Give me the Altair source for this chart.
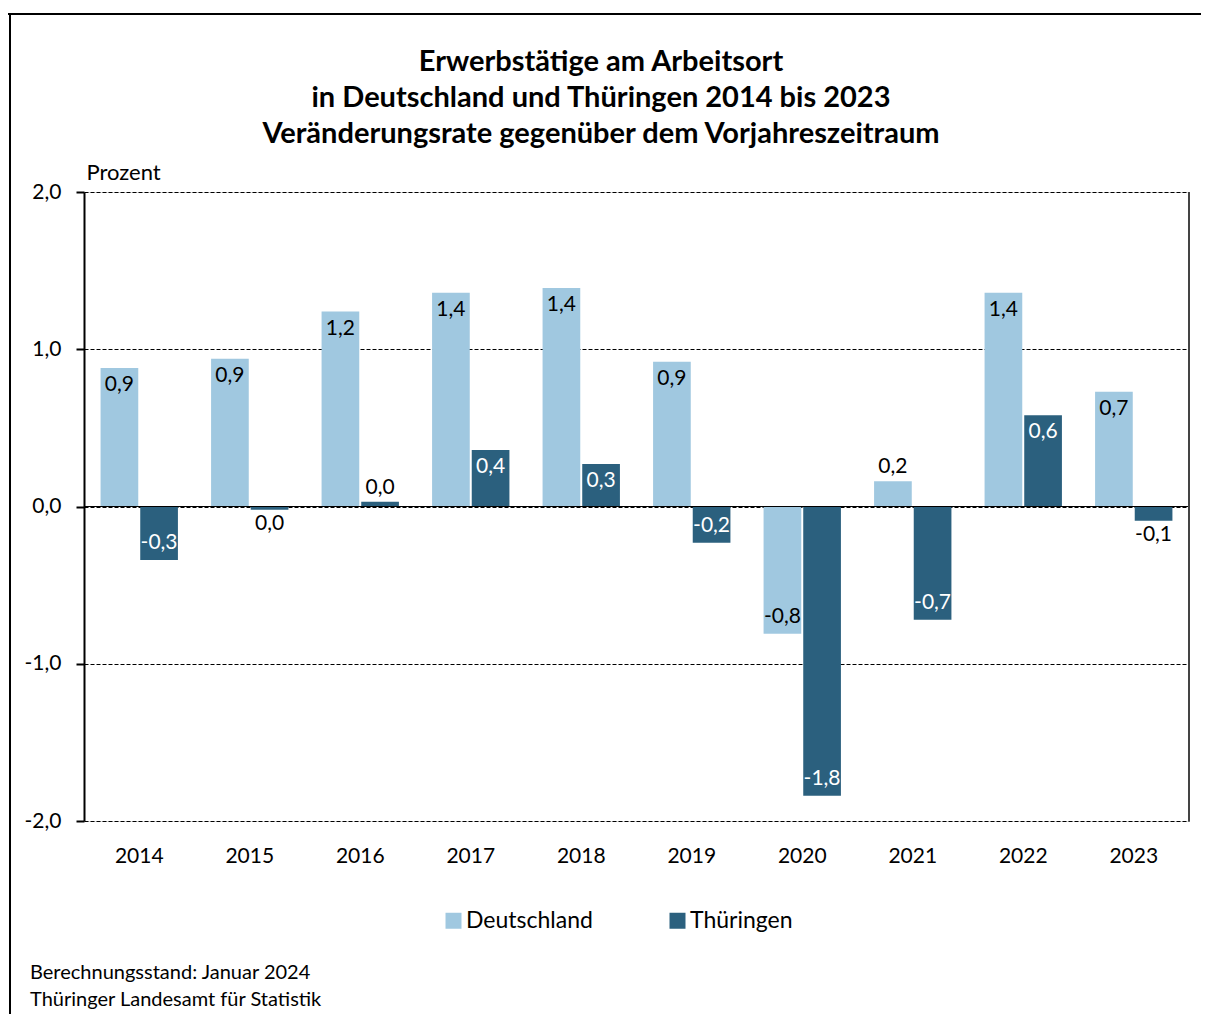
import altair as alt
import pandas as pd

years = ["2014", "2015", "2016", "2017", "2018", "2019", "2020", "2021", "2022", "2023"]
deutschland = [0.88, 0.94, 1.24, 1.36, 1.39, 0.92, -0.81, 0.16, 1.36, 0.73]
thueringen = [-0.34, -0.02, 0.03, 0.36, 0.27, -0.23, -1.84, -0.72, 0.58, -0.09]
labels_de = ["0,9", "0,9", "1,2", "1,4", "1,4", "0,9", "-0,8", "0,2", "1,4", "0,7"]
labels_th = ["-0,3", "0,0", "0,0", "0,4", "0,3", "-0,2", "-1,8", "-0,7", "0,6", "-0,1"]
series = ["Deutschland", "Thüringen"]
colors = ["#a0c8e0", "#2b607e"]
y_ticks = [-2, -1, 0, 1, 2]
title_lines = [
    "Erwerbstätige am Arbeitsort",
    "in Deutschland und Thüringen 2014 bis 2023",
    "Veränderungsrate gegenüber dem Vorjahreszeitraum",
]
footer = ["Berechnungsstand: Januar 2024", "Thüringer Landesamt für Statistik"]

FONT = "Lato"
W, H = 1105, 629
PAD = {"left": 76, "top": 184, "right": 12, "bottom": 193}

df = pd.DataFrame({
    "year": years * 2,
    "series": [series[0]] * len(years) + [series[1]] * len(years),
    "value": deutschland + thueringen,
    "label": labels_de + labels_th,
})

base = alt.Chart(df)

x_enc = alt.X("year:N", title=None,
              scale=alt.Scale(paddingInner=0.3, paddingOuter=0.15),
              axis=alt.Axis(labelAngle=0, ticks=False, tickSize=0, domain=False,
                            labelPadding=24, labelFontSize=21, labelFont=FONT,
                            labelColor="black", grid=False))
xo_enc = alt.XOffset("series:N", sort=series, scale=alt.Scale(paddingInner=0.05))
y_scale = alt.Scale(domain=[-2, 2], nice=False)

bars = base.mark_bar().encode(
    x=x_enc,
    xOffset=xo_enc,
    y=alt.Y("value:Q", scale=y_scale, title="Prozent",
            axis=alt.Axis(values=y_ticks, grid=True, gridDash=[4, 2], gridColor="black",
                          gridWidth=1, domain=True, domainColor="black", domainWidth=2,
                          ticks=True, tickSize=8, tickColor="black", tickWidth=2,
                          labelPadding=15, labelFontSize=21, labelFont=FONT,
                          labelColor="black",
                          labelExpr="replace(replace(format(datum.value, '.1f'), '.', ','), '\u2212', '-')",
                          titleAngle=0, titleX=2, titleY=-13, titleAlign="left",
                          titleBaseline="alphabetic", titleFontSize=22, titleFont=FONT,
                          titleFontWeight="normal", titleColor="black")),
    color=alt.Color("series:N", sort=series,
                    scale=alt.Scale(domain=series, range=colors),
                    legend=alt.Legend(title=None, orient="none", direction="horizontal",
                                      legendX=358, legendY=717, symbolType="square",
                                      symbolSize=256, symbolStrokeWidth=0,
                                      labelFontSize=23, labelFont=FONT, labelColor="black",
                                      columnPadding=73, labelOffset=1)),
)

zero = alt.Chart(pd.DataFrame({"z": [0]})).mark_rule(color="black", strokeWidth=1).encode(
    y=alt.Y("z:Q", scale=y_scale)
)

right_border = alt.Chart(pd.DataFrame({"z": [0]})).mark_rule(color="#444444", strokeWidth=2).encode(
    x=alt.value(W), y=alt.value(0), y2=alt.value(H)
)

def text_layer(cond, dy, inside):
    color = (alt.condition(alt.datum.series == "Thüringen", alt.value("white"), alt.value("black"))
             if inside else alt.value("black"))
    return base.transform_filter(cond).mark_text(
        fontSize=21, font=FONT, baseline="middle", align="center", dy=dy
    ).encode(x=alt.X("year:N"), xOffset=xo_enc, y=alt.Y("value:Q", scale=y_scale),
             text="label:N", color=color)

t_pos_in = text_layer("datum.value >= 0.2", 17, True)
t_pos_out = text_layer("datum.value >= 0 && datum.value < 0.2", -14, False)
t_neg_in = text_layer("datum.value <= -0.2", -17, True)
t_neg_out = text_layer("datum.value < 0 && datum.value > -0.2", 14, False)

title = alt.Chart(pd.DataFrame({"z": [0]})).mark_text(
    text=title_lines, align="center", baseline="middle", fontSize=29, font=FONT,
    fontWeight="bold", color="black", lineHeight=36
).encode(x=alt.value(517), y=alt.value(-130))

foot1 = alt.Chart(pd.DataFrame({"t": [footer[0]]})).mark_text(
    align="left", baseline="middle", fontSize=20, font=FONT, color="black"
).encode(text="t:N", x=alt.value(-54), y=alt.value(781))
foot2 = alt.Chart(pd.DataFrame({"t": [footer[1]]})).mark_text(
    align="left", baseline="middle", fontSize=20, font=FONT, color="black"
).encode(text="t:N", x=alt.value(-54), y=alt.value(808))

frame_left = alt.Chart(pd.DataFrame({"z": [0]})).mark_rule(color="black", strokeWidth=2).encode(
    x=alt.value(-74), y=alt.value(-179), y2=alt.value(H + PAD["bottom"])
)
frame_top = alt.Chart(pd.DataFrame({"z": [0]})).mark_rule(color="black", strokeWidth=2).encode(
    x=alt.value(-76), x2=alt.value(W + PAD["right"]), y=alt.value(-178)
)

chart = alt.layer(
    bars, zero, right_border, t_pos_in, t_pos_out, t_neg_in, t_neg_out,
    title, foot1, foot2, frame_left, frame_top
).properties(
    width=W, height=H,
    autosize=alt.AutoSizeParams(type="none"),
    padding=PAD,
).configure_view(stroke=None).configure(background="white")

chart.save("out.html", embed_options={"renderer": "svg", "actions": False})
